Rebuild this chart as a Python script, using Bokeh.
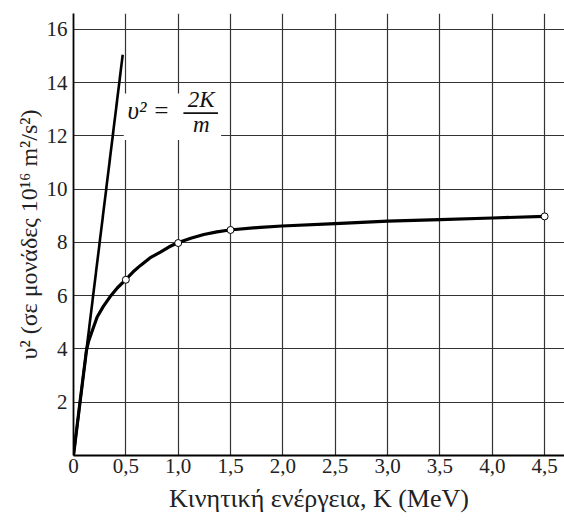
from bokeh.plotting import figure
from bokeh.models import FixedTicker, Label, BoxAnnotation
from bokeh.embed import file_html
from bokeh.resources import INLINE

# Classical line v^2 = 2K/m
classic_K = [0.0, 0.47]
classic_v2 = [0.0, 15.05]

curve_K = [0.0, 0.062, 0.124, 0.145, 0.169, 0.226, 0.285, 0.347, 0.42, 0.497, 0.57, 0.64,
           0.73, 0.83, 0.91, 0.99, 1.12, 1.245, 1.37, 1.49, 1.786, 1.99, 2.5, 3.0, 3.5, 4.0, 4.5]
curve_v2 = [0.0, 2.0, 3.95, 4.3, 4.57, 5.2, 5.6, 5.95, 6.3, 6.6, 6.9, 7.14,
            7.42, 7.64, 7.83, 7.98, 8.16, 8.3, 8.4, 8.47, 8.57, 8.62, 8.71, 8.80, 8.86, 8.92, 8.98]

# Marked points
pts_K = [0.5, 1.0, 1.5, 4.5]
pts_v2 = [6.6, 7.98, 8.47, 8.98]

x_ticks = [0, 0.5, 1.0, 1.5, 2.0, 2.5, 3.0, 3.5, 4.0, 4.5]
x_tick_labels = ["0", "0,5", "1,0", "1,5", "2,0", "2,5", "3,0", "3,5", "4,0", "4,5"]
y_ticks = [2, 4, 6, 8, 10, 12, 14, 16]
y_tick_labels = ["2", "4", "6", "8", "10", "12", "14", "16"]

FONT = "Liberation Serif"

p = figure(width=564, height=527, x_range=(0, 4.69), y_range=(0, 16.6),
           output_backend="svg", toolbar_location=None,
           min_border_left=73, min_border_top=13, min_border_right=0, min_border_bottom=72)
p.outline_line_color = None
p.background_fill_color = "white"
p.border_fill_color = "white"

p.xaxis.ticker = FixedTicker(ticks=x_ticks)
p.xaxis.major_label_overrides = {t: l for t, l in zip(x_ticks, x_tick_labels)}
p.yaxis.ticker = FixedTicker(ticks=y_ticks)
p.yaxis.major_label_overrides = {t: l for t, l in zip(y_ticks, y_tick_labels)}

for ax in (p.xaxis[0], p.yaxis[0]):
    ax.axis_line_color = "black"
    ax.axis_line_width = 1.8
    ax.major_tick_out = 0
    ax.major_tick_in = 0
    ax.minor_tick_out = 0
    ax.minor_tick_in = 0
    ax.major_label_text_font = FONT
    ax.major_label_text_font_size = "21px"
    ax.major_label_text_color = "#222222"
    ax.axis_label_text_font = FONT
    ax.axis_label_text_font_style = "normal"
    ax.axis_label_text_color = "#222222"

p.xaxis.axis_label = "Κινητική ενέργεια, K (MeV)"
p.yaxis.axis_label = "υ² (σε μονάδες 10¹⁶ m²/s²)"
p.xaxis.axis_label_text_font_size = "26px"
p.yaxis.axis_label_text_font_size = "24px"
p.xaxis.major_label_standoff = 3
p.xaxis.axis_label_standoff = 8
p.yaxis.major_label_standoff = 6
p.yaxis.axis_label_standoff = 2

p.xgrid.ticker = FixedTicker(ticks=x_ticks[1:])
p.ygrid.ticker = FixedTicker(ticks=y_ticks)
for g in (p.xgrid[0], p.ygrid[0]):
    g.grid_line_color = "#333333"
    g.grid_line_width = 1.2

# Formula background box (under the curves, over the grid)
p.add_layout(BoxAnnotation(left=0.48, right=1.41, bottom=11.85, top=13.6,
                           fill_color="white", fill_alpha=1, line_color=None, level="underlay"))

# Curves
p.line(classic_K, classic_v2, line_color="black", line_width=2.6)
p.line(curve_K, curve_v2, line_color="black", line_width=3.2, line_join="round")
p.scatter(pts_K, pts_v2, size=7, fill_color="white", line_color="black", line_width=1)

# Formula text
p.add_layout(Label(x=0.515, y=12.97, text="υ² =", text_font=FONT, text_font_size="25px",
                   text_font_style="italic", text_color="#111111", text_baseline="alphabetic"))
p.add_layout(Label(x=1.22, y=13.38, text="2K", text_font=FONT, text_font_size="23px",
                   text_font_style="italic", text_color="#111111", text_align="center",
                   text_baseline="alphabetic"))
p.add_layout(BoxAnnotation(left=1.05, right=1.38, bottom=12.83, top=12.89,
                           fill_color="#111111", fill_alpha=1, line_color=None, level="annotation"))
p.add_layout(Label(x=1.22, y=12.42, text="m", text_font=FONT, text_font_size="23px",
                   text_font_style="italic", text_color="#111111", text_align="center",
                   text_baseline="alphabetic"))

open("out.html", "w").write(file_html(p, INLINE))
